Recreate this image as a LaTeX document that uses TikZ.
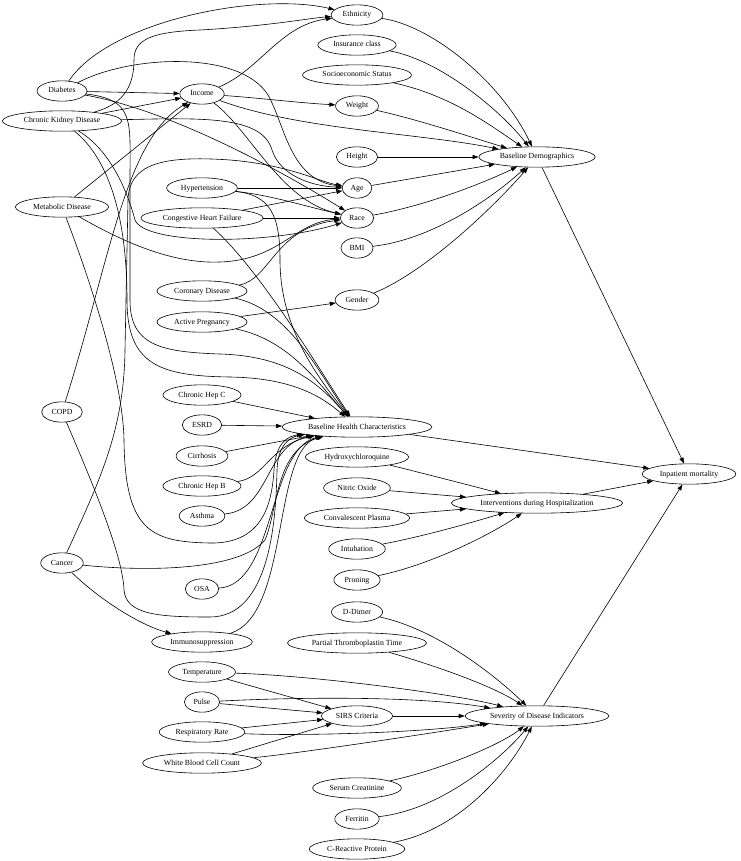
\documentclass[tikz,border=0pt]{standalone}
\usepackage{fontspec}
\setmainfont{Liberation Serif}
\usetikzlibrary{arrows.meta,shapes.geometric}
\begin{document}
\begin{tikzpicture}[x=1pt,y=-1pt,
  nd/.style={ellipse,draw,line width=0.6pt,inner xsep=4pt,inner ysep=3.6pt,
    font=\fontsize{7.8}{9}\selectfont,text height=5.6pt,text depth=1.6pt},
  ed/.style={draw,line width=0.6pt,-{Triangle[length=6pt,width=4.2pt]}}]
\useasboundingbox[fill=white] (0,0) rectangle (740,861);
% column 1
\node[nd] (diab) at (62,91) {Diabetes};
\node[nd] (ckd) at (62,121) {Chronic Kidney Disease};
\node[nd] (meta) at (62,207) {Metabolic Disease};
\node[nd] (copd) at (62,412) {COPD};
\node[nd] (canc) at (62,563) {Cancer};
% column 2
\node[nd] (inc) at (202,94) {Income};
\node[nd] (hyp) at (202,188) {Hypertension};
\node[nd] (chf) at (202,218) {Congestive Heart Failure};
\node[nd] (cor) at (202,291) {Coronary Disease};
\node[nd] (preg) at (202,322) {Active Pregnancy};
\node[nd] (hepc) at (202,395) {Chronic Hep C};
\node[nd] (esrd) at (202,425) {ESRD};
\node[nd] (cirr) at (202,456) {Cirrhosis};
\node[nd] (hepb) at (202,486) {Chronic Hep B};
\node[nd] (asth) at (202,516) {Asthma};
\node[nd] (osa) at (202,589) {OSA};
\node[nd] (imm) at (202,642) {Immunosuppression};
\node[nd] (temp) at (202,672) {Temperature};
\node[nd] (pulse) at (202,702) {Pulse};
\node[nd] (resp) at (202,732) {Respiratory Rate};
\node[nd] (wbc) at (202,763) {White Blood Cell Count};
% column 3
\node[nd] (eth) at (357,15) {Ethnicity};
\node[nd] (ins) at (357,45) {Insurance class};
\node[nd] (ses) at (357,75) {Socioeconomic Status};
\node[nd] (wt) at (357,106) {Weight};
\node[nd] (ht) at (357,157) {Height};
\node[nd] (age) at (357,188) {Age};
\node[nd] (race) at (357,218) {Race};
\node[nd] (bmi) at (357,248) {BMI};
\node[nd] (gen) at (357,300) {Gender};
\node[nd] (bhc) at (357,427) {Baseline Health Characteristics};
\node[nd] (hcq) at (357,457) {Hydroxychloroquine};
\node[nd] (no) at (357,488) {Nitric Oxide};
\node[nd] (cp) at (357,518) {Convalescent Plasma};
\node[nd] (intub) at (357,549) {Intubation};
\node[nd] (pron) at (357,580) {Proning};
\node[nd] (dd) at (357,612) {D-Dimer};
\node[nd] (ptt) at (357,643) {Partial Thromboplastin Time};
\node[nd] (sirs) at (357,716) {SIRS Criteria};
\node[nd] (scr) at (357,788) {Serum Creatinine};
\node[nd] (fer) at (357,819) {Ferritin};
\node[nd] (crp) at (357,849) {C-Reactive Protein};
% column 4
\node[nd] (bd) at (537,157) {Baseline Demographics};
\node[nd] (intv) at (537,503) {Interventions during Hospitalization};
\node[nd] (sev) at (537,716) {Severity of Disease Indicators};
% column 5
\node[nd] (im) at (689,474) {Inpatient mortality};

% ---- column 1 edges
\draw[ed] (diab) .. controls (110,20) and (260,-8) .. (eth);
\draw[ed] (diab) -- (inc);
\draw[ed] (diab) .. controls (130,55) and (240,50) .. (268,95) .. controls (285,125) and (290,180) .. (age);
\draw[ed] (diab) .. controls (170,110) and (280,170) .. (race);
\draw[ed] (diab) .. controls (135,100) and (130,120) .. (130,180) -- (130,300) .. controls (130,345) and (160,352) .. (220,354) .. controls (290,356) and (320,385) .. (bhc);

\draw[ed] (ckd) .. controls (120,105) and (134,90) .. (134,60) .. controls (134,40) and (150,32) .. (200,30) .. controls (270,26) and (310,18) .. (eth);
\draw[ed] (ckd) -- (inc);
\draw[ed] (ckd) .. controls (200,118) and (262,115) .. (272,150) .. controls (280,175) and (310,186) .. (age);
\draw[ed] (ckd) .. controls (110,150) and (127,190) .. (135,220) .. controls (145,245) and (270,245) .. (race);
\draw[ed] (ckd) .. controls (110,160) and (127,220) .. (127,300) .. controls (127,365) and (160,376) .. (230,377) .. controls (290,378) and (320,395) .. (bhc);

\draw[ed] (meta) -- (inc);
\draw[ed] (meta) .. controls (120,240) and (170,264) .. (220,262) .. controls (280,260) and (295,222) .. (race);
\draw[ed] (meta) .. controls (90,280) and (123,380) .. (124,440) .. controls (125,530) and (150,542) .. (210,543) .. controls (265,544) and (272,500) .. (274,470) .. controls (276,440) and (290,436) .. (bhc);

\draw[ed] (copd) .. controls (110,260) and (125,140) .. (inc);
\draw[ed] (copd) .. controls (100,500) and (123,560) .. (124,590) .. controls (126,615) and (160,617) .. (210,617) .. controls (270,617) and (276,520) .. (277,470) .. controls (278,440) and (295,436) .. (bhc);

\draw[ed] (canc) .. controls (100,480) and (124,430) .. (125,350) -- (128,200) .. controls (129,165) and (160,155) .. (230,160) .. controls (290,165) and (320,182) .. (age);
\draw[ed] (canc) .. controls (150,572) and (240,570) .. (265,540) .. controls (278,510) and (275,450) .. (bhc);
\draw[ed] (canc) .. controls (100,600) and (140,625) .. (imm);

% ---- column 2 edges
\draw[ed] (inc) .. controls (260,70) and (280,25) .. (eth);
\draw[ed] (inc) .. controls (260,98) and (300,103) .. (wt);
\draw[ed] (inc) .. controls (300,130) and (420,133) .. (bd);
\draw[ed] (inc) .. controls (250,130) and (280,200) .. (race);

\draw[ed] (hyp) -- (age);
\draw[ed] (hyp) .. controls (270,195) and (300,205) .. (race);
\draw[ed] (hyp) .. controls (270,195) and (280,215) .. (280,260) .. controls (280,330) and (320,380) .. (bhc);

\draw[ed] (chf) -- (age);
\draw[ed] (chf) -- (race);
\draw[ed] (chf) .. controls (260,270) and (320,370) .. (bhc);

\draw[ed] (cor) .. controls (270,280) and (275,228) .. (race);
\draw[ed] (cor) .. controls (290,310) and (320,375) .. (bhc);
\draw[ed] (preg) -- (gen);
\draw[ed] (preg) .. controls (290,340) and (320,385) .. (bhc);
\draw[ed] (hepc) -- (bhc);
\draw[ed] (esrd) -- (bhc);
\draw[ed] (cirr) -- (bhc);
\draw[ed] (hepb) .. controls (265,478) and (270,445) .. (bhc);
\draw[ed] (asth) .. controls (270,510) and (265,445) .. (bhc);
\draw[ed] (osa) .. controls (275,585) and (268,450) .. (bhc);
\draw[ed] (imm) .. controls (290,615) and (272,450) .. (bhc);

\draw[ed] (temp) -- (sirs);
\draw[ed] (pulse) -- (sirs);
\draw[ed] (resp) -- (sirs);
\draw[ed] (wbc) -- (sirs);
\draw[ed] (temp) .. controls (320,676) and (460,695) .. (sev);
\draw[ed] (pulse) .. controls (300,697) and (420,696) .. (sev);
\draw[ed] (resp) .. controls (300,736) and (420,733) .. (sev);
\draw[ed] (wbc) .. controls (300,753) and (420,735) .. (sev);

% ---- column 3 edges
\draw[ed] (eth) .. controls (430,25) and (500,80) .. (bd);
\draw[ed] (ins) .. controls (440,60) and (500,110) .. (bd);
\draw[ed] (ses) .. controls (450,95) and (490,125) .. (bd);
\draw[ed] (wt) .. controls (420,120) and (480,140) .. (bd);
\draw[ed] (ht) -- (bd);
\draw[ed] (age) -- (bd);
\draw[ed] (race) .. controls (430,205) and (490,180) .. (bd);
\draw[ed] (bmi) .. controls (430,240) and (490,200) .. (bd);
\draw[ed] (gen) .. controls (430,270) and (500,200) .. (bd);

\draw[ed] (hcq) .. controls (430,475) and (480,488) .. (intv);
\draw[ed] (no) -- (intv);
\draw[ed] (cp) -- (intv);
\draw[ed] (intub) .. controls (430,535) and (480,520) .. (intv);
\draw[ed] (pron) .. controls (430,565) and (490,535) .. (intv);

\draw[ed] (dd) .. controls (440,630) and (500,680) .. (sev);
\draw[ed] (ptt) .. controls (450,670) and (500,690) .. (sev);
\draw[ed] (sirs) -- (sev);
\draw[ed] (scr) .. controls (440,770) and (500,745) .. (sev);
\draw[ed] (fer) .. controls (440,810) and (500,760) .. (sev);
\draw[ed] (crp) .. controls (460,830) and (510,770) .. (sev);

% ---- column 4 edges
\draw[ed] (bd) -- (im);
\draw[ed] (bhc) -- (im);
\draw[ed] (intv) -- (im);
\draw[ed] (sev) -- (im);
\end{tikzpicture}
\end{document}
